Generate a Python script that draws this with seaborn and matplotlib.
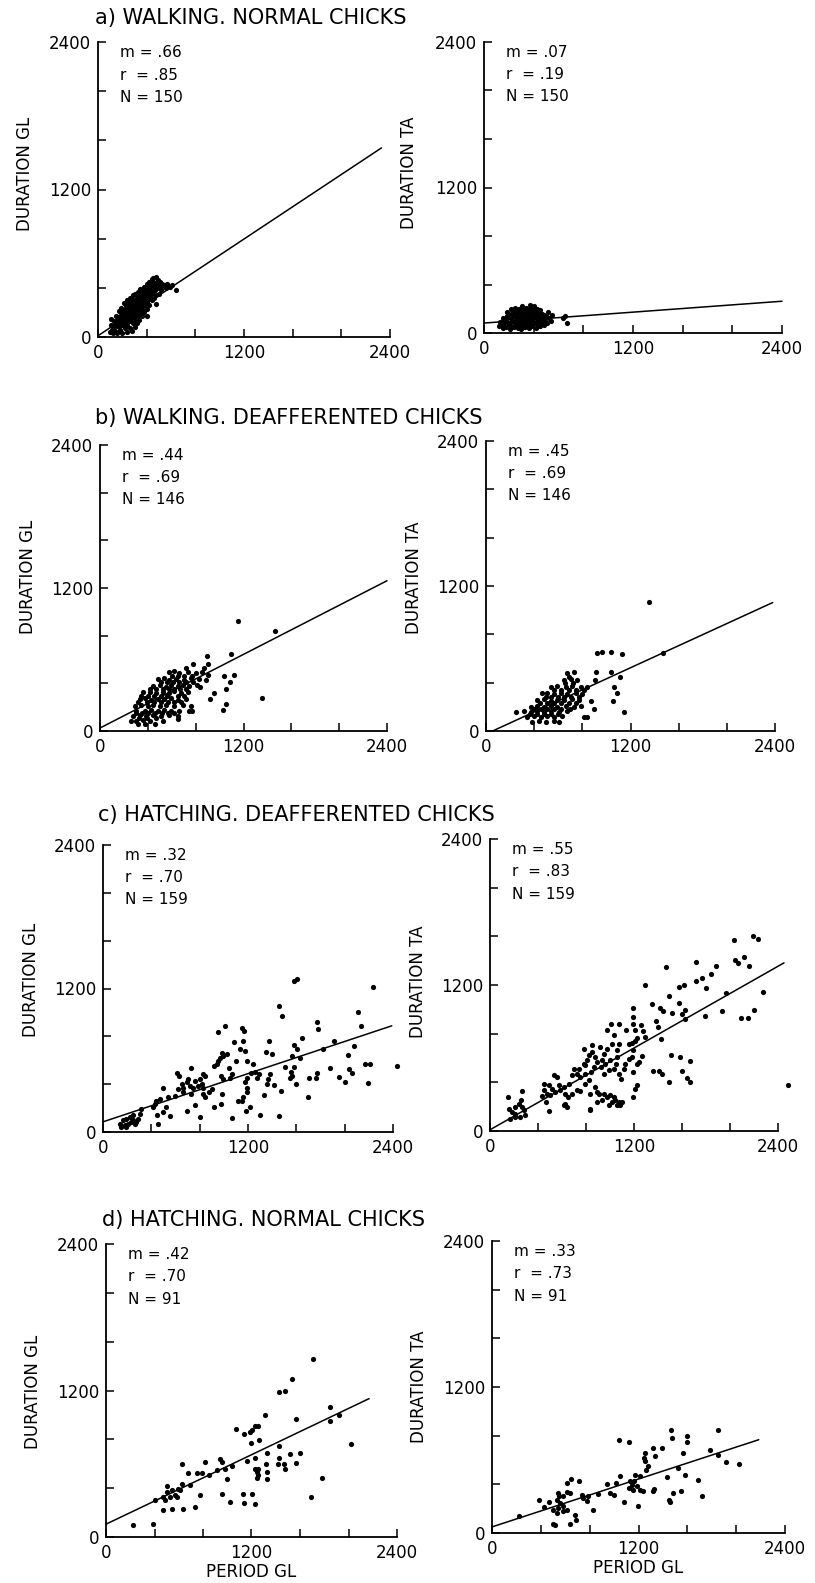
import numpy as np
import pandas as pd
import matplotlib
matplotlib.use("Agg")
import matplotlib.pyplot as plt
import seaborn as sns

# values (ms); pairs are (period GL, duration)
a_gl = [(100, 40), (105, 100), (110, 150), (120, 30), (125, 80), (130, 130),
        (140, 50), (145, 110), (150, 170), (160, 30), (160, 90), (165, 150), (170, 210),
        (180, 60), (180, 120), (185, 180), (190, 240), (200, 30), (200, 100), (205, 160),
        (210, 220), (215, 280), (220, 70), (220, 130), (225, 190), (230, 250), (235, 300),
        (240, 40), (240, 100), (245, 160), (250, 220), (255, 280), (260, 320),
        (260, 70), (265, 130), (270, 190), (275, 250), (280, 310), (285, 340),
        (280, 50), (285, 110), (290, 170), (295, 230), (300, 290), (305, 350),
        (300, 80), (305, 140), (310, 200), (315, 260), (320, 320), (325, 370),
        (320, 110), (325, 170), (330, 230), (335, 290), (340, 350), (345, 390),
        (340, 140), (345, 200), (350, 260), (355, 320), (360, 380),
        (360, 170), (365, 230), (370, 290), (375, 350), (380, 410),
        (380, 200), (385, 260), (390, 320), (395, 380), (400, 430), (400, 170),
        (400, 230), (405, 290), (410, 350), (415, 410), (420, 450),
        (420, 260), (425, 320), (430, 380), (435, 440), (440, 470),
        (440, 300), (445, 360), (450, 420), (455, 480), (460, 320), (465, 380),
        (470, 440), (475, 490), (480, 340), (480, 270), (485, 400), (490, 460),
        (500, 350), (505, 410), (510, 450), (520, 380), (530, 430), (560, 400),
        (570, 430), (610, 420), (640, 380),
        (115, 60), (135, 90), (155, 130), (175, 90), (175, 160), (195, 140), (195, 200),
        (215, 110), (215, 190), (235, 160), (235, 220), (255, 130), (255, 190), (255, 250),
        (275, 160), (275, 220), (275, 280), (295, 140), (295, 200), (295, 260), (315, 170),
        (315, 230), (315, 290), (335, 200), (335, 260), (335, 320), (355, 230), (355, 290),
        (355, 350), (375, 260), (375, 320), (375, 380), (395, 290), (395, 350), (395, 410),
        (415, 320), (415, 380), (435, 350), (435, 410), (455, 390), (455, 450), (475, 410),
        (495, 430), (515, 410), (545, 420), (590, 410)]

a_ta = [(120, 60), (125, 90), (150, 40), (150, 80), (155, 120), (180, 50), (180, 100),
        (185, 140), (185, 170), (210, 30), (210, 70), (215, 120), (215, 160), (220, 200),
        (240, 50), (240, 90), (245, 140), (245, 180), (250, 210), (270, 40), (270, 80),
        (275, 120), (275, 160), (280, 200), (300, 30), (300, 70), (305, 110), (305, 150),
        (310, 190), (310, 220), (330, 50), (330, 90), (335, 130), (335, 170), (340, 210),
        (360, 40), (360, 80), (365, 120), (365, 160), (370, 200), (370, 230), (390, 60),
        (390, 100), (395, 140), (395, 180), (400, 220), (420, 40), (420, 80), (425, 120),
        (425, 160), (430, 200), (450, 60), (450, 100), (455, 150), (455, 190), (480, 70),
        (480, 110), (485, 150), (510, 80), (510, 130), (515, 170), (540, 100), (545, 150),
        (640, 120), (650, 140), (670, 80),
        (135, 70), (165, 60), (165, 110), (195, 80), (195, 130), (225, 50), (225, 100),
        (225, 140), (255, 70), (255, 120), (255, 160), (285, 60), (285, 100), (285, 140),
        (285, 180), (315, 50), (315, 90), (315, 130), (315, 170), (345, 70), (345, 110),
        (345, 150), (345, 190), (375, 60), (375, 100), (375, 140), (375, 180), (405, 80),
        (405, 120), (405, 160), (405, 200), (435, 60), (435, 100), (435, 140), (435, 180),
        (465, 80), (465, 120), (465, 160), (495, 100), (495, 140), (525, 120)]

b_gl = [(1150, 926), (1463, 842), (897, 632), (1097, 643), (905, 565), (781, 562),
        (866, 529), (718, 529), (1034, 464), (1122, 473), (1086, 408), (1053, 352),
        (951, 319), (924, 268), (1353, 274), (1053, 224), (1025, 179), (836, 366),
        (905, 470),
        (580, 492), (622, 500), (663, 485), (732, 497), (800, 488), (855, 495),
        (484, 436), (539, 445), (580, 430), (635, 440), (704, 430), (759, 442), (828, 436), (883, 428),
        (443, 380), (498, 388), (553, 372), (594, 385), (649, 378), (690, 390), (745, 375), (814, 382),
        (360, 324), (415, 330), (470, 318), (525, 328), (580, 320), (622, 332), (676, 322), (732, 326),
        (333, 268), (374, 275), (429, 262), (484, 270), (539, 265), (594, 275), (649, 262), (718, 270),
        (292, 213), (347, 220), (402, 208), (443, 215), (498, 210), (553, 218), (622, 208), (690, 215), (759, 213),
        (305, 171), (374, 165), (429, 175), (484, 168), (539, 176), (594, 166), (663, 172), (745, 170),
        (278, 129), (333, 135), (388, 125), (443, 132), (512, 126), (580, 134), (649, 128),
        (305, 87), (360, 92), (415, 84), (525, 88), (319, 59), (374, 55), (457, 62),
        (259, 81), (654, 100), (773, 171),
        (320, 240), (390, 240), (455, 240), (510, 240), (565, 240), (620, 240), (680, 240),
        (345, 295), (400, 295), (455, 295), (510, 295), (560, 295), (650, 295), (700, 295),
        (420, 350), (470, 350), (525, 350), (575, 350), (620, 350), (665, 350), (720, 350),
        (510, 410), (560, 410), (610, 410), (660, 410), (720, 410), (780, 410),
        (600, 465), (650, 465), (700, 465), (770, 465),
        (300, 150), (350, 150), (405, 150), (460, 150), (515, 150), (565, 150), (620, 150),
        (330, 110), (390, 105), (470, 105)]

b_ta = [(919, 643), (961, 651), (1036, 651), (1127, 638), (911, 486), (1036, 491),
        (1110, 444), (1063, 367), (1091, 312), (1055, 248), (1146, 160), (897, 179),
        (875, 248), (902, 422), (1356, 1065), (1472, 643),
        (675, 477), (731, 485), (648, 422), (703, 428), (758, 418),
        (537, 367), (592, 372), (661, 362), (717, 370), (786, 365), (841, 360),
        (468, 312), (509, 318), (565, 308), (620, 315), (675, 310), (745, 316), (800, 308),
        (426, 257), (482, 262), (537, 252), (592, 260), (648, 255), (717, 262), (772, 254),
        (371, 201), (426, 206), (482, 198), (537, 204), (592, 200), (661, 206), (731, 198), (786, 203),
        (246, 160), (316, 165), (371, 156), (426, 162), (482, 158), (537, 164), (606, 156), (675, 162),
        (343, 119), (398, 124), (454, 115), (509, 121), (565, 117), (634, 123), (814, 119),
        (385, 77), (440, 82), (496, 74), (565, 80), (606, 76), (841, 119),
        (400, 180), (455, 180), (510, 180), (565, 180), (625, 180), (700, 180),
        (450, 230), (510, 230), (565, 230), (620, 230), (690, 230), (745, 230),
        (500, 285), (540, 285), (595, 285), (650, 285), (710, 285), (770, 285),
        (565, 340), (620, 340), (690, 340), (745, 340), (810, 340),
        (365, 140), (420, 140), (480, 140), (540, 140), (600, 140),
        (690, 450), (720, 395), (660, 395)]

c_gl = [(1577, 1264), (1604, 1277), (2235, 1214), (1455, 1054), (1483, 974), (2110, 1007),
        (2135, 888), (1770, 924), (1776, 864), (949, 836), (1012, 883), (1148, 869),
        (1167, 842), (1084, 750), (1162, 759), (1377, 764), (1577, 731), (1604, 698),
        (1651, 786), (1909, 759), (2080, 717), (1820, 690), (1134, 690), (1176, 676),
        (1350, 670), (1400, 654), (2027, 648), (1563, 635), (1632, 621), (727, 538),
        (614, 497), (625, 469), (982, 662), (968, 621), (954, 593), (940, 566), (918, 552),
        (996, 635), (1023, 649), (1101, 593), (1195, 593), (1245, 566), (1507, 544),
        (1582, 544), (1881, 538), (2033, 524), (2061, 497), (2166, 571), (2213, 571),
        (2434, 552), (1770, 497), (1762, 455), (1707, 455), (1554, 502), (1563, 469),
        (1549, 455), (1599, 400), (1383, 483), (1369, 441), (1355, 400), (1416, 395),
        (1336, 309), (1474, 345), (1698, 295), (1953, 461), (2005, 414), (2191, 406),
        (1278, 455), (1294, 483), (1223, 492), (1259, 502), (1189, 455), (1176, 414),
        (1189, 372), (1189, 331), (1162, 290), (1148, 262), (1120, 262), (1217, 207),
        (1184, 179), (1300, 138), (1458, 130), (1065, 119), (921, 207), (974, 235),
        (982, 317), (1051, 455), (1065, 483), (1043, 538), (996, 441), (974, 469),
        (899, 359), (880, 331), (844, 290), (830, 317), (802, 124), (761, 229),
        (830, 372), (816, 400), (788, 386), (747, 372), (719, 386), (692, 414),
        (664, 372), (622, 359), (595, 303), (761, 428), (802, 441), (844, 469),
        (830, 483), (705, 441), (725, 317), (697, 179), (498, 372), (534, 295),
        (437, 262), (470, 276), (429, 235), (415, 207), (520, 207), (553, 130),
        (448, 138), (456, 69), (498, 166), (318, 193), (650, 400), (664, 331),
        (138, 69), (166, 97), (194, 110), (221, 124), (249, 102), (277, 83), (290, 110),
        (180, 55), (207, 69), (235, 83), (263, 69), (152, 41), (194, 41), (249, 138),
        (304, 152)]

c_ta = [(2031, 1573), (2192, 1603), (2233, 1576), (2045, 1408), (2067, 1381), (2114, 1430),
        (2156, 1354), (1717, 1389), (1470, 1348), (1295, 1197), (1720, 1230), (1767, 1260),
        (1842, 1293), (1800, 1178), (1886, 1356), (1578, 1184), (1614, 1197), (1489, 1107),
        (1967, 1137), (2278, 1143), (1350, 1047), (1420, 1014), (1439, 986), (1578, 1052),
        (1517, 970), (1628, 997), (1600, 959), (1622, 918), (1792, 943), (1933, 986),
        (2089, 926), (2150, 926), (2200, 997), (1192, 1014), (1189, 937), (1192, 882),
        (1206, 827), (1259, 871), (1275, 819), (1133, 827), (1383, 904), (1400, 855),
        (1428, 756), (1295, 773), (1225, 767), (1211, 740), (1183, 723), (1156, 712),
        (1011, 877), (1072, 877), (978, 833), (1031, 786), (1017, 718), (1058, 663),
        (1078, 712), (919, 690), (975, 677), (947, 636), (781, 677), (850, 704),
        (850, 649), (822, 622), (808, 581), (794, 540), (878, 608), (892, 567),
        (864, 526), (845, 485), (933, 581), (961, 553), (928, 526), (947, 471),
        (1003, 581), (989, 499), (1031, 512), (1058, 608), (1050, 553), (1072, 471),
        (1189, 668), (1183, 608), (1267, 614), (1225, 553), (1245, 567), (1189, 485),
        (1225, 375), (1211, 348), (1192, 279), (1356, 493), (1411, 493), (1433, 471),
        (1489, 403), (1508, 622), (1581, 608), (1664, 575), (1600, 490), (1642, 436),
        (1670, 403), (697, 512), (739, 512), (781, 553), (725, 471), (683, 458),
        (753, 444), (794, 471), (655, 389), (614, 362), (628, 307), (650, 279),
        (683, 307), (725, 340), (753, 329), (794, 389), (822, 416), (878, 362),
        (892, 321), (836, 301), (905, 301), (836, 175), (892, 238), (933, 252),
        (947, 307), (975, 279), (1003, 293), (1031, 279), (1044, 252), (1072, 238),
        (1100, 238), (1017, 238), (989, 211), (1058, 211), (1086, 211), (533, 458),
        (558, 444), (572, 375), (586, 334), (544, 321), (517, 348), (489, 375),
        (447, 389), (447, 334), (475, 307), (503, 293), (433, 285), (470, 238),
        (489, 164), (614, 211), (642, 197), (628, 225), (831, 184), (267, 329),
        (256, 252), (239, 219), (267, 197), (206, 197), (156, 184), (150, 279),
        (183, 156), (211, 115), (253, 115), (294, 129), (281, 170), (170, 101),
        (211, 142), (2483, 375), (1128, 553), (1156, 595), (1114, 512), (1095, 430)]

d_gl = [(1705, 1459), (1535, 1295), (1425, 1191), (1477, 1199), (1848, 1065), (1922, 999),
        (1848, 953), (1565, 963), (1312, 996), (1070, 887), (1141, 843), (1204, 876),
        (1229, 911), (1257, 911), (1190, 862), (1260, 791), (1196, 769), (1430, 744),
        (2019, 758), (1601, 692), (1518, 679), (1430, 646), (1331, 684), (1229, 649),
        (1160, 621), (1568, 608), (1469, 597), (1477, 561), (1422, 602), (1323, 599),
        (1331, 534), (1331, 479), (1257, 561), (1243, 534), (1229, 561), (1257, 506),
        (1249, 484), (1782, 487), (1689, 326), (1202, 356), (1229, 271), (1128, 353),
        (1141, 279), (1023, 287), (960, 353), (1040, 583), (982, 561), (996, 479),
        (941, 643), (954, 616), (919, 547), (850, 506), (817, 616), (748, 525),
        (789, 525), (679, 528), (624, 602), (693, 424), (776, 342), (734, 246),
        (638, 233), (624, 438), (597, 397), (542, 383), (569, 342), (528, 328),
        (501, 369), (473, 328), (487, 301), (542, 233), (610, 383), (583, 328),
        (501, 416), (404, 307), (468, 219), (223, 101), (385, 104)]

d_ta = [(1469, 843), (1850, 848), (1475, 780), (1597, 794), (1600, 744), (1039, 761),
        (1124, 747), (1782, 684), (1850, 638), (1918, 580), (2027, 569), (1564, 657),
        (1393, 695), (1320, 698), (1333, 635), (1252, 657), (1246, 616), (1252, 588),
        (1279, 547), (1265, 520), (1524, 534), (1583, 479), (1437, 457), (1687, 438),
        (1170, 476), (1165, 424), (1216, 465), (1048, 465), (1129, 424), (1143, 397),
        (1124, 370), (1184, 383), (1211, 356), (1156, 356), (1238, 348), (1328, 361),
        (1320, 342), (1197, 219), (1083, 255), (1012, 411), (939, 405), (966, 328),
        (999, 315), (1483, 328), (1545, 342), (1450, 274), (1461, 252), (1722, 301),
        (871, 323), (824, 186), (789, 301), (775, 260), (735, 315), (748, 287),
        (710, 424), (645, 443), (612, 411), (639, 328), (612, 334), (585, 301),
        (544, 328), (552, 301), (531, 274), (558, 246), (585, 219), (544, 205),
        (503, 192), (531, 164), (585, 178), (612, 192), (680, 151), (688, 110),
        (639, 77), (503, 77), (517, 68), (468, 252), (422, 213), (381, 274), (220, 142)]

panel_points = [a_gl, a_ta, b_gl, b_ta, c_gl, c_ta, d_gl, d_ta]
muscles = ["GL", "TA"] * 4

titles = ["a) WALKING. NORMAL CHICKS", "b) WALKING. DEAFFERENTED CHICKS",
          "c) HATCHING. DEAFFERENTED CHICKS", "d) HATCHING. NORMAL CHICKS"]
stat_m = [".66", ".07", ".44", ".45", ".32", ".55", ".42", ".33"]
stat_r = [".85", ".19", ".69", ".69", ".70", ".83", ".70", ".73"]
stat_n = ["150", "150", "146", "146", "159", "159", "91", "91"]

# regression lines as drawn in the figure
fit_b = [10, 82, 25, -25, 85, 10, 105, 50]
fit_m = [0.656, 0.075, 0.515, 0.457, 0.336, 0.56, 0.474, 0.328]
fit_x0 = [0, 0, 0, 55, 0, 0, 0, 0]
fit_x1 = [2330, 2400, 2400, 2381, 2390, 2450, 2170, 2185]

ticks = [0, 400, 800, 1200, 1600, 2000, 2400]
tick_labels = ["0", "", "", "1200", "", "", "2400"]

# layout in pixels: left, right, top, bottom of each axes
W, H = 815, 1583
boxes = [(98, 390, 42, 337), (484, 782, 42, 333),
         (100, 387, 445, 731), (486, 775, 441, 731),
         (103, 393, 845, 1132), (490, 778, 839, 1131),
         (106, 397, 1244, 1537), (492, 785, 1241, 1533)]
ylab_y = [0.553, 0.55, 0.54, 0.53, 0.53, 0.51, 0.495, 0.50]
title_pos = [(95, 18), (95, 418), (98, 815), (102, 1220)]

sns.set_style("ticks")
plt.rcParams["font.family"] = ["DejaVu Sans"]
plt.rcParams["text.color"] = "black"
plt.rcParams["axes.labelcolor"] = "black"

fig = plt.figure(figsize=(W / 100, H / 100), dpi=100)

for i, pts in enumerate(panel_points):
    l, r, t, b = boxes[i]
    ax = fig.add_axes([l / W, 1 - b / H, (r - l) / W, (b - t) / H])
    df = pd.DataFrame(pts, columns=["period", "duration"])
    sns.scatterplot(data=df, x="period", y="duration", ax=ax, color="black",
                    s=14, linewidth=0, legend=False, clip_on=False)
    xs = np.array([fit_x0[i], fit_x1[i]])
    sns.lineplot(x=xs, y=fit_b[i] + fit_m[i] * xs, ax=ax, color="black",
                 linewidth=1.1, clip_on=False)

    ax.set_xlim(0, 2400)
    ax.set_ylim(0, 2400)
    ax.set_xticks(ticks)
    ax.set_yticks(ticks)
    ax.set_xticklabels(tick_labels)
    ax.set_yticklabels(tick_labels)
    ax.tick_params(direction="in", length=6, width=1.1, labelsize=12, pad=5,
                   colors="black")
    sns.despine(ax=ax)
    for side in ["left", "bottom"]:
        ax.spines[side].set_linewidth(1.3)
        ax.spines[side].set_color("black")

    ax.set_ylabel(f"DURATION {muscles[i]}", fontsize=12)
    ax.yaxis.label.set_verticalalignment("center")
    ax.yaxis.set_label_coords(-0.25, ylab_y[i])
    if i >= 6:
        ax.set_xlabel("PERIOD GL", fontsize=12)
        ax.xaxis.label.set_verticalalignment("center")
        ax.xaxis.set_label_coords(0.5, -0.12)
    else:
        ax.set_xlabel("")

    for k, txt in enumerate([f"m = {stat_m[i]}", f"r  = {stat_r[i]}", f"N = {stat_n[i]}"]):
        ax.text(0.075, 0.965 - 0.077 * k, txt, transform=ax.transAxes,
                fontsize=11, va="center", ha="left")

for title, (tx, ty) in zip(titles, title_pos):
    fig.text(tx / W, 1 - ty / H, title, fontsize=15, va="center", ha="left")

fig.savefig("out.png", dpi=100, facecolor="white")
